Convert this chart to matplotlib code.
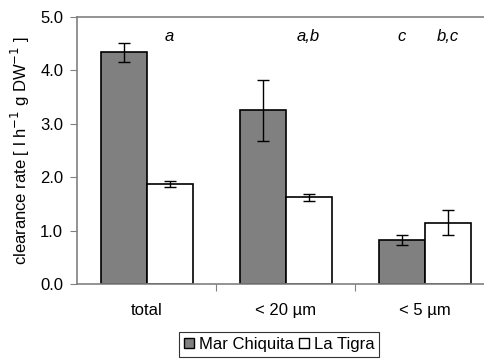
import numpy as np
import matplotlib
matplotlib.use('Agg')
import matplotlib.pyplot as plt
from matplotlib.patches import Patch

plt.rcParams['font.family'] = ['Liberation Sans', 'DejaVu Sans']

# Data
categories = ['total', '< 20 µm', '< 5 µm']
mar_chiquita = [4.34, 3.25, 0.82]
mar_chiquita_err = [0.18, 0.58, 0.10]
la_tigra = [1.87, 1.62, 1.15]
la_tigra_err = [0.05, 0.07, 0.23]
# significance letters: (category index, series, text)
letter_pos = [0, 1, 2, 2]
letter_series = ['lt', 'lt', 'mc', 'lt']
letter_text = ['a', 'a,b', 'c', 'b,c']

fig = plt.figure(figsize=(4.85, 3.64), dpi=100)
ax = fig.add_axes([0.159, 0.22, 0.86, 0.733])

x = np.arange(len(categories)) + 0.5
w = 0.33
ax.bar(x - w / 2, mar_chiquita, w, color='#808080', edgecolor='black', linewidth=1.2,
       yerr=mar_chiquita_err, capsize=4, error_kw=dict(elinewidth=1, capthick=1), label='Mar Chiquita')
ax.bar(x + w / 2, la_tigra, w, color='white', edgecolor='black', linewidth=1.2,
       yerr=la_tigra_err, capsize=4, error_kw=dict(elinewidth=1, capthick=1), label='La Tigra')

for i, s, t in zip(letter_pos, letter_series, letter_text):
    xpos = x[i] - w / 2 if s == 'mc' else x[i] + w / 2
    ax.text(xpos, 4.63, t, ha='center', va='center', style='italic', fontsize=12)

ax.set_xlim(0, 3)
ax.set_ylim(0, 5)
ax.set_yticks(np.arange(0, 5.01, 1.0))
ax.set_yticklabels(['%.1f' % v for v in np.arange(0, 5.01, 1.0)], fontsize=12)
ax.set_xticks([1, 2])
ax.set_xticklabels([])
ax.set_xticks(x, minor=True)
ax.set_xticklabels(categories, minor=True, fontsize=12)
ax.tick_params(axis='x', which='minor', length=0, pad=14)
ax.tick_params(axis='x', which='major', length=5, color='#808080')
ax.tick_params(axis='y', length=5, color='#808080', pad=5)

ax.axhline(5.0, color='#808080', linewidth=1.2, clip_on=False)
for side in ['top', 'right']:
    ax.spines[side].set_visible(False)
for side in ['left', 'bottom']:
    ax.spines[side].set_color('#808080')
    ax.spines[side].set_linewidth(1.2)

ax.set_ylabel('clearance rate [ l h$^{-1}$ g DW$^{-1}$ ]', fontsize=12, labelpad=6)

handles = [Patch(facecolor='#808080', edgecolor='black', label='Mar Chiquita'),
           Patch(facecolor='white', edgecolor='black', label='La Tigra')]
leg = fig.legend(handles=handles, loc='upper center', bbox_to_anchor=(0.575, 0.088), ncol=2,
                 fontsize=12, frameon=True, fancybox=False, handlelength=0.6, handleheight=0.6,
                 handletextpad=0.3, columnspacing=0.3, borderpad=0.3, borderaxespad=0)
leg.get_frame().set_edgecolor('black')
leg.get_frame().set_linewidth(0.8)

fig.savefig('out.png', dpi=100)
